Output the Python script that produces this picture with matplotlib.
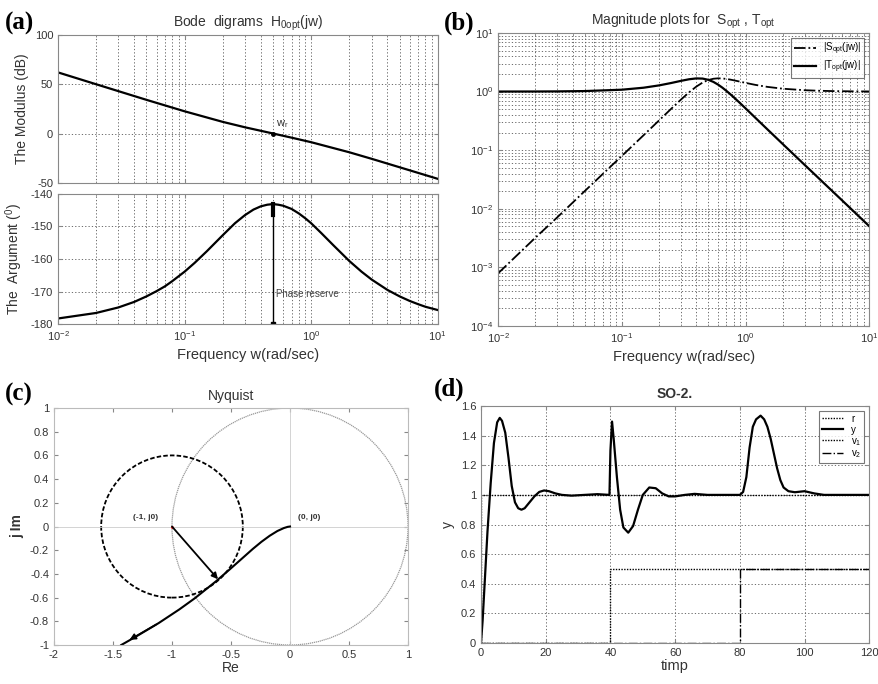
import numpy as np
import matplotlib
matplotlib.use('Agg')
import matplotlib.pyplot as plt
from matplotlib.patches import Circle

plt.rcParams['font.family'] = ['Liberation Sans', 'DejaVu Sans']
plt.rcParams['mathtext.fontset'] = 'custom'
plt.rcParams['mathtext.rm'] = 'Liberation Sans'
plt.rcParams['mathtext.it'] = 'Liberation Sans'
plt.rcParams['axes.unicode_minus'] = False

# ---- (a) Bode data ----
w_mag = [0.01, 0.02, 0.03, 0.05, 0.1, 0.2, 0.3, 0.5, 0.7, 1, 2, 3, 5, 10]
mag_db = [62.0, 50.0, 43.0, 34.2, 22.6, 11.9, 6.4, 0.1, -4.1, -8.7, -18.9, -25.5, -34.1, -45.8]
w_ph = [0.01, 0.02, 0.03, 0.04, 0.05, 0.06, 0.07, 0.08, 0.1, 0.12, 0.15, 0.2, 0.25, 0.3, 0.35,
        0.4, 0.45, 0.5, 0.55, 0.6, 0.7, 0.8, 0.9, 1, 1.2, 1.5, 2, 2.5, 3, 4, 5, 6, 7, 8, 10]
phase = [-178.3, -176.6, -174.9, -173.2, -171.5, -169.9, -168.4, -166.8, -163.9, -161.2, -157.6,
         -152.7, -149.0, -146.5, -144.8, -143.8, -143.3, -143.1, -143.3, -143.6, -144.6, -146.0,
         -147.5, -149.0, -152.0, -155.8, -160.6, -163.9, -166.3, -169.5, -171.5, -172.9, -173.9,
         -174.7, -175.7]
w_r = 0.5
phase_peak = -143.1

# ---- (b) sensitivity magnitudes ----
w_st = [0.01, 0.02, 0.03, 0.05, 0.1, 0.15, 0.2, 0.25, 0.3, 0.35, 0.4, 0.45, 0.5, 0.55, 0.6, 0.65,
        0.7, 0.75, 0.8, 0.9, 1, 1.2, 1.5, 2, 3, 4, 5, 7, 10]
t_mag = [1.001, 1.003, 1.007, 1.02, 1.076, 1.164, 1.275, 1.399, 1.522, 1.623, 1.677, 1.666, 1.587,
         1.461, 1.313, 1.165, 1.029, 0.908, 0.804, 0.639, 0.517, 0.357, 0.227, 0.127, 0.0562,
         0.0316, 0.0202, 0.0103, 0.00503]
s_mag = [7.9e-4, 3.2e-3, 7.1e-3, 0.0199, 0.0797, 0.180, 0.322, 0.506, 0.727, 0.972, 1.216, 1.426,
         1.575, 1.656, 1.683, 1.673, 1.643, 1.603, 1.56, 1.478, 1.407, 1.301, 1.203, 1.119, 1.055,
         1.031, 1.02, 1.01, 1.005]

# ---- (c) Nyquist ----
nyq_re = [0, -0.02, -0.052, -0.107, -0.172, -0.242, -0.315, -0.427, -0.511, -0.628, -0.806,
          -0.937, -1.113, -1.307, -1.43]
nyq_im = [0, -0.003, -0.013, -0.038, -0.078, -0.129, -0.189, -0.288, -0.362, -0.463, -0.605,
          -0.699, -0.815, -0.930, -1.0]
crit_pt = (-1, 0)
margin_radius = 0.6
margin_pt = (-0.61, -0.445)

# ---- (d) time response ----
t_y = [0, 0.5, 1, 2, 3, 4, 5, 5.8, 6.5, 7.5, 8.5, 9.5, 10.5, 11.5, 12.5, 13.5, 15, 16.5, 18, 19.5,
       21, 23, 25, 28, 32, 36, 39.7, 40.0, 40.5, 41, 42, 43, 44, 45.5, 47, 48.5, 50, 52, 54, 56,
       58, 60, 63, 66, 70, 75, 80, 81, 82, 83, 84, 85, 86.4, 87.5, 88.5, 89.5, 90.5, 91.5, 92.5,
       93.5, 95, 97, 100, 103, 106, 110, 120]
y_out = [0, 0.15, 0.35, 0.75, 1.08, 1.35, 1.49, 1.52, 1.50, 1.42, 1.25, 1.06, 0.95, 0.91, 0.90,
         0.91, 0.95, 0.99, 1.02, 1.03, 1.025, 1.01, 1.0, 0.995, 1.0, 1.005, 1.0, 1.3, 1.495, 1.38,
         1.12, 0.90, 0.78, 0.745, 0.79, 0.90, 1.0, 1.05, 1.045, 1.01, 0.99, 0.99, 1.0, 1.007, 1.0,
         1.0, 1.0, 1.02, 1.12, 1.32, 1.46, 1.51, 1.535, 1.51, 1.46, 1.38, 1.28, 1.18, 1.10, 1.05,
         1.025, 1.018, 1.025, 1.01, 1.0, 1.0, 1.0]
t_r = [0, 0, 120]
r_ref = [0, 1, 1]
t_v1 = [0, 40, 40, 120]
v1 = [0, 0, 0.5, 0.5]
t_v2 = [0, 80, 80, 120]
v2 = [0, 0, 0.5, 0.5]

tick_col = '#333333'
grid_kw = dict(color='#555555', linestyle=(0, (1.5, 2.5)), linewidth=0.6)


def style_axes(ax):
    for s in ax.spines.values():
        s.set_color('#888888')
        s.set_linewidth(0.8)
    ax.tick_params(which='both', direction='in', top=True, right=True, labelsize=8,
                   colors='#888888', labelcolor=tick_col, length=3)
    ax.tick_params(which='minor', length=1.5)


fig = plt.figure(figsize=(8.79, 6.84), dpi=100)

# (a) top: modulus
ax1 = fig.add_axes([0.066, 0.7325, 0.432, 0.2165])
ax1.semilogx(w_mag, mag_db, color='black', lw=1.6)
ax1.plot([w_r], [0], 'o', color='black', ms=2.5)
ax1.text(w_r * 1.05, 7, r'w$_r$', fontsize=8, color='#333333')
ax1.set_xlim(0.01, 10)
ax1.set_ylim(-50, 100)
ax1.set_yticks([-50, 0, 50, 100])
ax1.set_ylabel('The Modulus (dB)', fontsize=10, color='#333333')
ax1.grid(True, which='major', **grid_kw)
ax1.grid(True, which='minor', axis='x', **grid_kw)
style_axes(ax1)
ax1.tick_params(labelbottom=False)
ax1.set_title(r'Bode  digrams  H$_{\rm 0opt}$(jw)', fontsize=10, color='#333333')

# (a) bottom: argument
ax2 = fig.add_axes([0.066, 0.5263, 0.432, 0.1901])
ax2.semilogx(w_ph, phase, color='black', lw=1.6)
ax2.plot([w_r, w_r], [-180, phase_peak], color='black', lw=1.0)
ax2.plot([w_r, w_r], [phase_peak, phase_peak - 3.5], color='black', lw=3)
ax2.plot([w_r], [-180], 's', color='black', ms=3)
ax2.text(w_r * 1.06, -171.8, 'Phase reserve', fontsize=7, color='#444444')
ax2.set_xlim(0.01, 10)
ax2.set_ylim(-180, -140)
ax2.set_yticks([-180, -170, -160, -150, -140])
ax2.set_ylabel('The  Argument ($^0$)', fontsize=10, color='#333333')
ax2.set_xlabel('Frequency w(rad/sec)', fontsize=10.5, color='#333333')
ax2.grid(True, which='major', **grid_kw)
ax2.grid(True, which='minor', axis='x', **grid_kw)
style_axes(ax2)

# (b) magnitude of S and T
ax3 = fig.add_axes([0.5666, 0.5234, 0.4224, 0.4284])
ax3.loglog(w_st, s_mag, color='black', lw=1.3, linestyle='-.', label=r'|S$_{opt}$(jw)|')
ax3.loglog(w_st, t_mag, color='black', lw=1.6, label=r'|T$_{opt}$(jw)|')
ax3.set_xlim(0.01, 10)
ax3.set_ylim(1e-4, 10)
ax3.set_xlabel('Frequency w(rad/sec)', fontsize=10.5, color='#333333')
ax3.grid(True, which='both', **grid_kw)
style_axes(ax3)
ax3.set_title(r'Magnitude plots for  S$_{opt}$ , T$_{opt}$', fontsize=10, color='#333333')
leg = ax3.legend(loc='upper right', fontsize=7, fancybox=False, edgecolor='#555555',
                 handlelength=2.2, borderpad=0.3, labelspacing=0.2)
leg.get_frame().set_linewidth(0.8)

# (c) Nyquist
ax4 = fig.add_axes([0.0614, 0.057, 0.4028, 0.3465])
ax4.axhline(0, color='#cccccc', lw=0.6)
ax4.axvline(0, color='#cccccc', lw=0.6)
ax4.add_patch(Circle((0, 0), 1, fill=False, edgecolor='#999999', lw=0.9, linestyle=(0, (1, 0.6))))
ax4.add_patch(Circle(crit_pt, margin_radius, fill=False, edgecolor='black', lw=1.3,
                     linestyle=(0, (2.5, 1.2))))
ax4.plot(nyq_re, nyq_im, color='black', lw=1.5)
ax4.annotate('', xy=(-1.38, -0.968), xytext=(nyq_re[-3], nyq_im[-3]),
             arrowprops=dict(arrowstyle='-|>', color='black', lw=1.2, mutation_scale=9))
ax4.annotate('', xy=margin_pt, xytext=crit_pt,
             arrowprops=dict(arrowstyle='-|>', color='black', lw=1.3, mutation_scale=9,
                             shrinkA=0, shrinkB=0))
ax4.plot([crit_pt[0]], [crit_pt[1]], '.', color='red', ms=2)
ax4.text(-1.33, 0.06, '(-1, j0)', fontsize=6, fontweight='bold', color='#333333')
ax4.text(0.07, 0.06, '(0, j0)', fontsize=6, fontweight='bold', color='#333333')
ax4.set_xlim(-2, 1)
ax4.set_ylim(-1, 1)
ax4.set_xticks([-2, -1.5, -1, -0.5, 0, 0.5, 1])
ax4.set_xticklabels(['-2', '-1.5', '-1', '-0.5', '0', '0.5', '1'])
ax4.set_yticks([-1, -0.8, -0.6, -0.4, -0.2, 0, 0.2, 0.4, 0.6, 0.8, 1])
ax4.set_yticklabels(['-1', '-0.8', '-0.6', '-0.4', '-0.2', '0', '0.2', '0.4', '0.6', '0.8', '1'])
ax4.set_xlabel('Re', fontsize=10, color='#333333', labelpad=1)
ax4.set_ylabel('j Im', fontsize=10, color='#333333', fontweight='bold')
ax4.set_title('Nyquist', fontsize=10, color='#333333')
style_axes(ax4)
for s in ax4.spines.values():
    s.set_color('#bbbbbb')

# (d) time response
ax5 = fig.add_axes([0.5472, 0.0599, 0.4418, 0.3465])
ax5.plot(t_r, r_ref, color='black', lw=1.0, linestyle=(0, (1, 1)), label='r')
ax5.plot(t_y, y_out, color='black', lw=1.6, label='y')
ax5.plot(t_v1, v1, color='black', lw=1.0, linestyle=(0, (1, 1)), label=r'v$_1$')
ax5.plot(t_v2, v2, color='black', lw=1.0, linestyle='-.', label=r'v$_2$')
ax5.set_xlim(0, 120)
ax5.set_ylim(0, 1.6)
ax5.set_xticks([0, 20, 40, 60, 80, 100, 120])
ax5.set_yticks([0, 0.2, 0.4, 0.6, 0.8, 1, 1.2, 1.4, 1.6])
ax5.set_yticklabels(['0', '0.2', '0.4', '0.6', '0.8', '1', '1.2', '1.4', '1.6'])
ax5.set_xlabel('timp', fontsize=10.5, color='#333333', labelpad=1)
ax5.set_ylabel('y', fontsize=10, color='#333333')
ax5.set_title('SO-2.', fontsize=10, fontweight='bold', color='#333333')
ax5.grid(True, which='major', **grid_kw)
style_axes(ax5)
leg2 = ax5.legend(loc='upper right', fontsize=7, fancybox=False, edgecolor='#555555',
                  handlelength=2.2, borderpad=0.3, labelspacing=0.1)
leg2.get_frame().set_linewidth(0.8)

# panel letters
for (x, y, lab) in [(0.006, 0.957, '(a)'), (0.505, 0.957, '(b)'), (0.006, 0.414, '(c)'),
                    (0.494, 0.421, '(d)')]:
    fig.text(x, y, lab, fontsize=18, fontweight='bold', family='Liberation Serif')

fig.savefig('out.png', dpi=100)
